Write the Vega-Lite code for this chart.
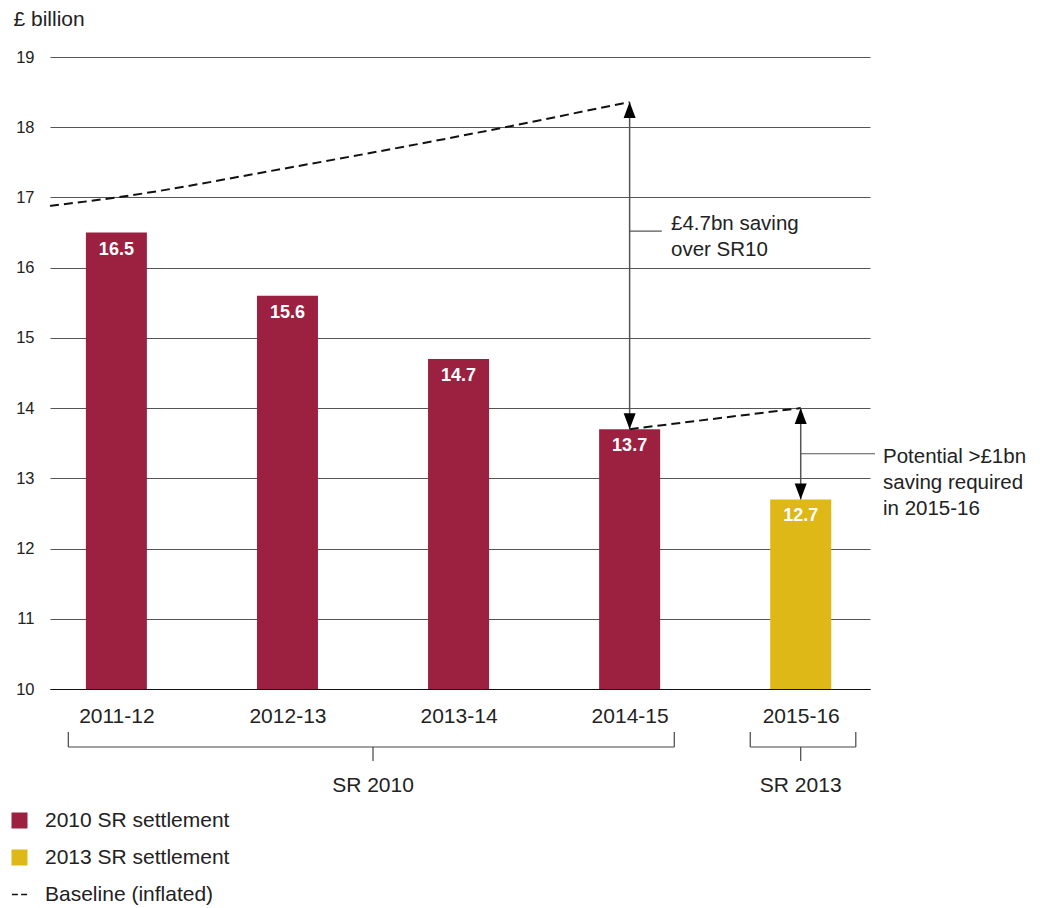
{
  "$schema": "https://vega.github.io/schema/vega-lite/v6.json",
  "autosize": "none",
  "width": 820,
  "height": 632,
  "padding": {"left": 50, "top": 57, "right": 172, "bottom": 219},
  "background": "white",
  "config": {
    "font": "Liberation Sans",
    "view": {"stroke": null},
    "text": {"font": "Liberation Sans"}
  },
  "datasets": {
    "spend": [
      {"year": "2011-12", "pos": 0, "value": 16.5, "settlement": "2010 SR settlement"},
      {"year": "2012-13", "pos": 1, "value": 15.6, "settlement": "2010 SR settlement"},
      {"year": "2013-14", "pos": 2, "value": 14.7, "settlement": "2010 SR settlement"},
      {"year": "2014-15", "pos": 3, "value": 13.7, "settlement": "2010 SR settlement"},
      {"year": "2015-16", "pos": 4, "value": 12.7, "settlement": "2013 SR settlement"}
    ],
    "baseline": [
      {"pos": -0.388, "value": 16.88},
      {"pos": 0, "value": 17.0},
      {"pos": 1, "value": 17.42},
      {"pos": 2, "value": 17.87},
      {"pos": 3, "value": 18.36}
    ],
    "baseline2015": [
      {"pos": 3, "value": 13.7},
      {"pos": 4, "value": 14.0}
    ],
    "gaps": [
      {"pos": 3, "top": 18.36, "bottom": 13.7, "connY": 16.52, "connEnd": 3.188, "textX": 3.242, "textY": 16.536, "note": ["£4.7bn saving", "over SR10"]},
      {"pos": 4, "top": 14.0, "bottom": 12.7, "connY": 13.35, "connEnd": 4.434, "textX": 4.481, "textY": 13.218, "note": ["Potential >£1bn", "saving required", "in 2015-16"]}
    ],
    "brackets": [
      {"period": "SR 2010", "start": -0.281, "end": 3.261, "mid": 1.5},
      {"period": "SR 2013", "start": 3.705, "end": 4.322, "mid": 4.0}
    ]
  },
  "encoding": {
    "x": {
      "type": "quantitative",
      "scale": {"domain": [-0.388, 4.405], "nice": false, "zero": false, "padding": 0},
      "axis": {
        "orient": "bottom",
        "values": [0, 1, 2, 3, 4],
        "labelExpr": "['2011-12','2012-13','2013-14','2014-15','2015-16'][datum.value]",
        "title": null,
        "grid": false,
        "ticks": false,
        "domain": true,
        "domainColor": "#111",
        "domainWidth": 1.2,
        "labelFontSize": 21,
        "labelColor": "#222",
        "labelBaseline": "alphabetic",
        "labelPadding": 33
      }
    }
  },
  "layer": [
    {
      "data": {"name": "spend"},
      "mark": {"type": "bar", "width": 61},
      "encoding": {
        "x": {"field": "pos"},
        "y": {
          "field": "value",
          "type": "quantitative",
          "scale": {"domain": [10, 19], "nice": false, "zero": false},
          "axis": {
            "values": [10, 11, 12, 13, 14, 15, 16, 17, 18, 19],
            "format": "d",
            "grid": true,
            "gridColor": "#555",
            "gridWidth": 1,
            "domain": false,
            "ticks": false,
            "labelFontSize": 16.5,
            "labelColor": "#222",
            "labelPadding": 16,
            "title": "£ billion",
            "titleAngle": 0,
            "titleX": -37,
            "titleY": -32,
            "titleAlign": "left",
            "titleBaseline": "alphabetic",
            "titleFontSize": 21,
            "titleFontWeight": "normal",
            "titleColor": "#222"
          }
        },
        "y2": {"datum": 10},
        "color": {
          "field": "settlement",
          "type": "nominal",
          "scale": {
            "domain": ["2010 SR settlement", "2013 SR settlement", "Baseline (inflated)"],
            "range": ["#9c2140", "#ddb816", "#111111"]
          },
          "legend": {
            "orient": "none",
            "legendX": -41,
            "legendY": 753,
            "direction": "vertical",
            "title": null,
            "symbolType": "square",
            "symbolSize": 256,
            "symbolStrokeWidth": 0,
            "labelFontSize": 21,
            "labelColor": "#222",
            "labelOffset": 15,
            "labelLimit": 400,
            "rowPadding": 15,
            "encode": {
              "symbols": {
                "update": {
                  "shape": {"signal": "datum.value === 'Baseline (inflated)' ? 'M-0.95,0H-0.2M0.2,0H0.95' : 'square'"},
                  "stroke": {"signal": "datum.value === 'Baseline (inflated)' ? '#111' : null"},
                  "strokeWidth": {"value": 1.6}
                }
              }
            }
          }
        }
      }
    },
    {
      "data": {"name": "spend"},
      "mark": {"type": "text", "color": "white", "fontWeight": "bold", "fontSize": 18, "baseline": "alphabetic", "dy": 22},
      "encoding": {
        "x": {"field": "pos"},
        "y": {"field": "value", "type": "quantitative"},
        "text": {"field": "value", "type": "quantitative", "format": ".1f"}
      }
    },
    {
      "data": {"name": "baseline"},
      "mark": {"type": "line", "color": "#111", "strokeWidth": 2, "strokeDash": [9, 5], "interpolate": "monotone"},
      "encoding": {
        "x": {"field": "pos"},
        "y": {"field": "value", "type": "quantitative"}
      }
    },
    {
      "data": {"name": "baseline2015"},
      "mark": {"type": "line", "color": "#111", "strokeWidth": 2, "strokeDash": [9, 5]},
      "encoding": {
        "x": {"field": "pos"},
        "y": {"field": "value", "type": "quantitative"}
      }
    },
    {
      "data": {"name": "gaps"},
      "mark": {"type": "rule", "color": "#555", "strokeWidth": 1.5},
      "encoding": {
        "x": {"field": "pos"},
        "y": {"field": "top", "type": "quantitative"},
        "y2": {"field": "bottom"}
      }
    },
    {
      "data": {"name": "gaps"},
      "mark": {"type": "rule", "color": "#555", "strokeWidth": 1.2},
      "encoding": {
        "x": {"field": "pos"},
        "x2": {"field": "connEnd"},
        "y": {"field": "connY", "type": "quantitative"}
      }
    },
    {
      "data": {"name": "gaps"},
      "mark": {"type": "point", "shape": "M0,0L-0.75,2L0.75,2Z", "size": 256, "filled": true, "color": "#000", "opacity": 1},
      "encoding": {
        "x": {"field": "pos"},
        "y": {"field": "top", "type": "quantitative"}
      }
    },
    {
      "data": {"name": "gaps"},
      "mark": {"type": "point", "shape": "M0,0L-0.75,-2L0.75,-2Z", "size": 256, "filled": true, "color": "#000", "opacity": 1},
      "encoding": {
        "x": {"field": "pos"},
        "y": {"field": "bottom", "type": "quantitative"}
      }
    },
    {
      "data": {"name": "gaps"},
      "mark": {"type": "text", "align": "left", "baseline": "alphabetic", "fontSize": 20.5, "lineHeight": 26, "color": "#222"},
      "encoding": {
        "x": {"field": "textX"},
        "y": {"field": "textY", "type": "quantitative"},
        "text": {"field": "note"}
      }
    },
    {
      "data": {"name": "brackets"},
      "mark": {"type": "rule", "color": "#444", "strokeWidth": 1.2},
      "encoding": {
        "x": {"field": "start"},
        "x2": {"field": "end"},
        "y": {"datum": 9.174}
      }
    },
    {
      "data": {"name": "brackets"},
      "mark": {"type": "rule", "color": "#444", "strokeWidth": 1.2},
      "encoding": {
        "x": {"field": "start"},
        "y": {"datum": 9.388},
        "y2": {"datum": 9.174}
      }
    },
    {
      "data": {"name": "brackets"},
      "mark": {"type": "rule", "color": "#444", "strokeWidth": 1.2},
      "encoding": {
        "x": {"field": "end"},
        "y": {"datum": 9.388},
        "y2": {"datum": 9.174}
      }
    },
    {
      "data": {"name": "brackets"},
      "mark": {"type": "rule", "color": "#444", "strokeWidth": 1.2},
      "encoding": {
        "x": {"field": "mid"},
        "y": {"datum": 9.174},
        "y2": {"datum": 8.975}
      }
    },
    {
      "data": {"name": "brackets"},
      "mark": {"type": "text", "align": "center", "baseline": "alphabetic", "fontSize": 21, "color": "#222"},
      "encoding": {
        "x": {"field": "mid"},
        "y": {"datum": 8.537},
        "text": {"field": "period"}
      }
    }
  ]
}
